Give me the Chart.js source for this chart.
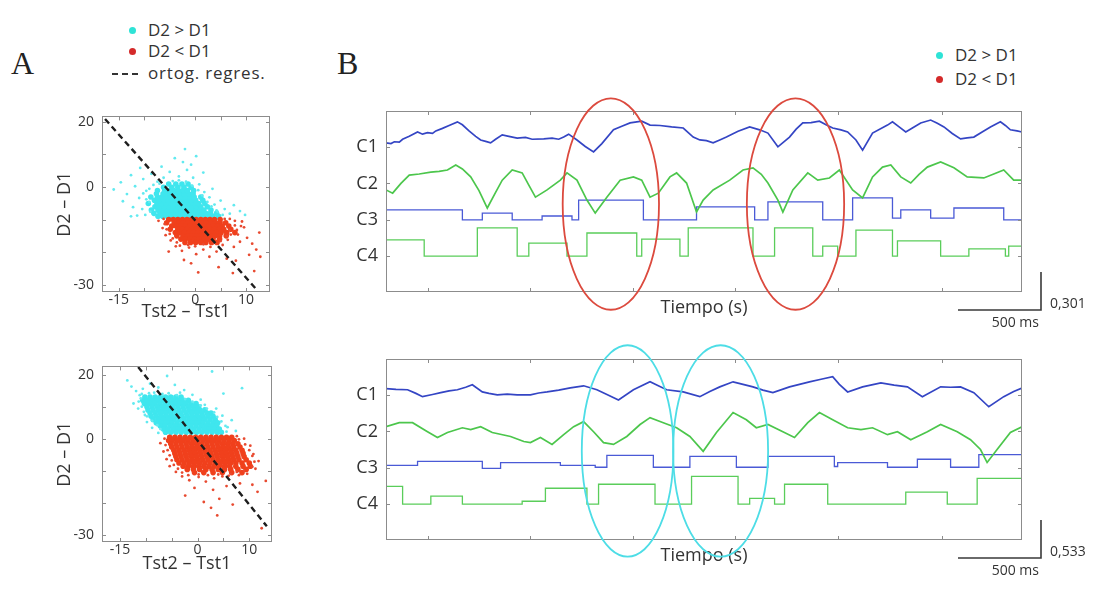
<!DOCTYPE html>
<html>
<head>
<meta charset="utf-8">
<script src="https://cdn.jsdelivr.net/npm/chart.js@4.4.1/dist/chart.umd.min.js"></script>
<style>
  body { margin: 0; width: 1093px; height: 591px; position: relative; overflow: hidden; background: #fff;
         font-family: 'Open Sans', sans-serif; color: #333; }
  canvas { position: absolute; }
  .panel { position: absolute; font-family: 'Liberation Serif', serif; font-size: 32px; line-height: 32px; color: #222; }
  .leg { position: absolute; font-size: 17px; line-height: 20px; white-space: nowrap; }
  .dot { display: inline-block; width: 7px; height: 7px; border-radius: 50%; margin-right: 12px; vertical-align: middle; position: relative; top: -1px; }
  .dash { display: inline-block; width: 26px; border-top: 2px dashed #333; margin-right: 10px; vertical-align: middle; }
</style>
</head>
<body>
<div class="panel" style="left:11px;top:47px">A</div>
<div class="panel" style="left:337px;top:47px">B</div>

<div class="leg" style="left:129px;top:20px"><span class="dot" style="background:#2ee3d6"></span>D2 &gt; D1</div>
<div class="leg" style="left:129px;top:41px"><span class="dot" style="background:#d42a2a"></span>D2 &lt; D1</div>
<div class="leg" style="left:112px;top:63px;letter-spacing:0.8px"><span class="dash"></span>ortog. regres.</div>

<div class="leg" style="left:936px;top:45px"><span class="dot" style="background:#2ee3d6"></span>D2 &gt; D1</div>
<div class="leg" style="left:936px;top:69px"><span class="dot" style="background:#d42a2a"></span>D2 &lt; D1</div>

<canvas id="sc1" width="240" height="230" style="left:40px;top:100px"></canvas>
<canvas id="sc2" width="240" height="230" style="left:40px;top:350px"></canvas>
<canvas id="ts1" width="763" height="250" style="left:330px;top:88px"></canvas>
<canvas id="ts2" width="763" height="250" style="left:330px;top:336px"></canvas>

<script>
// ---- Panel A: D2-D1 vs Tst2-Tst1 scatter clouds -------------------------
// dense cores as rows [y, [x...]], scattered points as [x, y] pairs

const p1CyanRows = [
  [-9.0, [-7.3,-6.4,-5.5,-4.6,-3.7,-2.8,-1.9,-1.0,-0.1,0.8,1.7,2.6,3.5,4.6]],
  [-8.1, [-8.1,-6.9,-6.0,-5.1,-4.2,-3.3,-2.4,-1.5,-0.6,0.3,1.2,2.1,3.0,4.2]],
  [-7.1, [-8.6,-7.3,-6.4,-5.5,-4.6,-3.7,-2.8,-1.9,-1.0,-0.1,0.8,1.7,3.1]],
  [-6.1, [-7.9,-7.0,-6.1,-5.2,-4.3,-3.4,-2.5,-1.6,-0.7,0.2,1.1,2.4]],
  [-5.1, [-9.2,-7.5,-6.6,-5.7,-4.8,-3.9,-3.0,-2.1,-1.2,-0.3,0.7,1.9]],
  [-4.1, [-8.0,-7.1,-6.2,-5.3,-4.4,-3.5,-2.6,-1.7,-0.8,0.1,1.5]],
  [-3.1, [-8.7,-7.4,-6.5,-5.6,-4.7,-3.8,-2.9,-2.0,-1.1,-0.2,1.1]],
  [-2.1, [-7.6,-6.3,-5.8,-4.9,-4.0,-3.1,-2.2,-1.3,-0.4]],
  [-1.1, [-7.4,-6.0,-5.1,-4.2,-3.3,-2.4,-1.5,-0.3]],
  [-0.1, [-6.2,-4.6,-3.4,-2.2,-0.8]],
  [0.9,  [-5.2,-3.8,-2.6,-1.4]]
];
const p1CyanSparse = [
  [-16.0,-0.8],[-14.6,1.4],[-13.4,-2.2],[-12.6,3.6],[-11.8,0.2],[-11.0,-3.4],[-10.2,2.4],[-9.6,-1.2],
  [-9.0,-4.6],[-10.8,5.8],[-8.6,4.0],[-7.4,1.6],[-6.2,2.8],[-5.0,4.6],[-4.0,8.8],[-3.2,3.2],
  [-2.4,7.6],[-1.6,5.2],[-0.8,6.8],[-0.4,2.8],[0.8,0.8],[1.8,-1.6],[2.8,-3.2],[3.8,-5.4],
  [5.0,-4.2],[5.8,-6.8],[6.8,-8.2],[7.6,-5.6],[8.8,-7.4],[9.8,-8.6],[4.4,-7.6],[-6.6,6.2],
  [-2.0,11.6],[1.6,4.4],[-12.2,-6.2],[-14.2,-4.4],[0.2,9.4],[3.4,-0.6],
  [-9.8,-8.6],[-10.4,-6.8],[-9.6,-3.8],[-10.2,-2.0],[-9.0,-0.6],[-8.2,0.6],[-7.0,1.0],[-4.4,1.8],
  [-3.2,2.0],[-1.8,1.6],[-0.6,0.4],[0.6,-1.0],[1.4,-2.6],[2.4,-4.6],[3.2,-6.0],[4.2,-7.2],
  [5.4,-8.6],[-8.8,-7.6],[-11.4,-8.8],[-12.6,-9.0]
];
const p1RedRows = [
  [-10.0, [-5.2,-4.3,-3.4,-2.5,-1.6,-0.7,0.2,1.1,2.0,2.9,3.8,4.9]],
  [-11.0, [-5.6,-4.1,-3.2,-2.3,-1.4,-0.5,0.4,1.3,2.2,3.1,4.0,4.9,6.0]],
  [-12.0, [-4.6,-3.7,-2.8,-1.9,-1.0,-0.1,0.8,1.7,2.6,3.5,4.4,5.3,6.6]],
  [-13.0, [-4.9,-3.4,-2.5,-1.6,-0.7,0.2,1.1,2.0,2.9,3.8,4.7,5.6,7.0]],
  [-14.0, [-3.9,-3.0,-2.1,-1.2,-0.3,0.6,1.5,2.4,3.3,4.2,5.1,6.2,7.8]],
  [-15.0, [-3.6,-2.4,-1.5,-0.6,0.3,1.2,2.1,3.0,3.9,4.8,6.1]],
  [-16.0, [-2.8,-1.9,-1.0,-0.1,0.8,1.7,2.6,3.5,4.8]],
  [-17.0, [-2.0,-0.9,0.1,1.1,2.1,3.2,4.3]]
];
const p1RedSparse = [
  [-7.2,-10.4],[-6.4,-12.6],[-5.8,-14.8],[-4.8,-16.4],[-3.8,-18.2],[-2.6,-19.6],[-1.2,-18.6],[0.2,-20.6],
  [1.6,-19.2],[2.8,-21.4],[4.2,-19.8],[5.4,-17.8],[6.4,-16.2],[7.6,-18.4],[8.4,-14.6],[8.8,-16.8],
  [9.6,-12.4],[10.2,-15.6],[11.2,-17.4],[12.0,-19.2],[12.8,-21.4],[10.6,-20.8],[8.0,-22.6],[6.2,-22.0],
  [4.6,-24.6],[0.6,-26.2],[-0.8,-23.4],[7.4,-26.4],[11.6,-25.8],[9.2,-10.6],[7.8,-11.8],[-5.2,-19.8],
  [3.6,-17.2],[6.8,-13.2],[-2.2,-22.4],[12.6,-14.0],
  [-6.2,-9.8],[-6.0,-11.4],[-5.6,-13.0],[-5.0,-14.4],[-4.4,-15.8],[-3.6,-17.0],[-3.0,-18.0],[-1.4,-17.8],
  [0.0,-18.2],[1.6,-17.6],[3.0,-18.4],[5.0,-16.6],[6.2,-15.0],[7.0,-14.6],[8.2,-13.2],[7.8,-10.4],
  [6.8,-9.8],[5.8,-9.8],[9.0,-12.0]
];
const p1Regression = [[-17.7, 20.8], [12.1, -31.5]];

const p2CyanRows = [
  [13.2, [-10.2,-9.2,-8.2,-7.2,-6.2,-5.2,-4.2,-3.2]],
  [12.2, [-10.6,-9.7,-8.7,-7.7,-6.7,-5.7,-4.7,-3.7,-2.7,-1.8]],
  [11.2, [-10.3,-9.3,-8.3,-7.3,-6.3,-5.3,-4.3,-3.3,-2.3,-1.3,-0.3]],
  [10.2, [-9.8,-8.8,-7.8,-6.8,-5.8,-4.8,-3.8,-2.8,-1.8,-0.8,0.2]],
  [9.2,  [-9.6,-8.6,-7.6,-6.6,-5.6,-4.6,-3.6,-2.6,-1.6,-0.6,0.4,1.4]],
  [8.2,  [-9.2,-8.2,-7.2,-6.2,-5.2,-4.2,-3.2,-2.2,-1.2,-0.2,0.8,1.8,2.6]],
  [7.2,  [-9.0,-8.0,-7.0,-6.0,-5.0,-4.0,-3.0,-2.0,-1.0,0.0,1.0,2.0,3.0]],
  [6.2,  [-8.6,-7.6,-6.6,-5.6,-4.6,-3.6,-2.6,-1.6,-0.6,0.4,1.4,2.4,3.4]],
  [5.2,  [-8.0,-7.0,-6.0,-5.0,-4.0,-3.0,-2.0,-1.0,0.0,1.0,2.0,3.0,3.9]],
  [4.2,  [-7.2,-6.3,-5.3,-4.3,-3.3,-2.3,-1.3,-0.3,0.7,1.7,2.7,3.7]],
  [3.2,  [-6.6,-5.7,-4.7,-3.7,-2.7,-1.7,-0.7,0.3,1.3,2.3,3.3,4.2]],
  [2.2,  [-6.2,-5.2,-4.2,-3.2,-2.2,-1.2,-0.2,0.8,1.8,2.8,3.8,4.6]]
];
const p2CyanSparse = [
  [-12.8,16.5],[-11.9,15.1],[-11.2,13.8],[-12.4,11.2],[-11.5,9.6],[-10.6,15.8],[-9.2,17.4],[-7.6,16.2],
  [-5.9,19.8],[-4.4,17.0],[-2.6,15.4],[-1.0,13.9],[0.6,12.4],[1.4,10.8],[2.8,21.2],[5.0,14.3],
  [3.6,9.6],[4.8,7.4],[6.6,6.0],[5.8,3.8],[7.4,2.6],[-10.2,7.6],[-9.8,5.4],[-8.8,3.6],
  [-7.6,2.0],[-13.6,18.4],[8.6,16.0],[-3.4,14.6],[-8.4,14.6],[-6.8,14.2],
  [-10.8,14.2],[-9.4,14.4],[-7.0,14.0],[-5.6,14.4],[-4.0,13.8],[-2.4,12.6],[-1.0,11.8],[0.6,10.6],
  [1.8,9.6],[3.2,8.4],[3.8,7.0],[4.6,5.6],[5.4,4.2],[5.6,2.4],[-7.2,3.2],[-7.8,4.4],
  [-8.8,5.8],[-9.8,7.2],[-10.4,8.6],[-10.8,10.2],[-11.4,11.8],[-11.0,12.8]
];
const p2RedRows = [
  [0.6,   [-5.4,-4.4,-3.4,-2.4,-1.4,-0.4,0.6,1.6,2.6,3.6,4.6,5.6,6.6]],
  [-0.4,  [-5.6,-4.9,-3.9,-2.9,-1.9,-0.9,0.1,1.1,2.1,3.1,4.1,5.1,6.1,7.1]],
  [-1.4,  [-5.2,-4.2,-3.2,-2.2,-1.2,-0.2,0.8,1.8,2.8,3.8,4.8,5.8,6.8,7.8]],
  [-2.4,  [-5.0,-4.0,-3.0,-2.0,-1.0,0.0,1.0,2.0,3.0,4.0,5.0,6.0,7.0,8.2]],
  [-3.4,  [-4.6,-3.6,-2.6,-1.6,-0.6,0.4,1.4,2.4,3.4,4.4,5.4,6.4,7.4,8.6]],
  [-4.4,  [-4.4,-3.4,-2.4,-1.4,-0.4,0.6,1.6,2.6,3.6,4.6,5.6,6.6,7.6,8.8]],
  [-5.4,  [-4.2,-3.2,-2.2,-1.2,-0.2,0.8,1.8,2.8,3.8,4.8,5.8,6.8,7.8,9.0]],
  [-6.4,  [-4.0,-3.0,-2.0,-1.0,0.0,1.0,2.0,3.0,4.0,5.0,6.0,7.0,8.0,9.4]],
  [-7.4,  [-3.6,-2.6,-1.6,-0.6,0.4,1.4,2.4,3.4,4.4,5.4,6.4,7.4,8.6,10.0]],
  [-8.4,  [-2.8,-1.8,-0.8,0.2,1.2,2.2,3.2,4.2,5.2,6.2,7.4,8.8,10.2]],
  [-9.4,  [-2.0,-0.8,0.4,1.6,2.8,4.0,5.2,6.4,7.8,9.4]],
  [-10.4, [-0.6,1.2,3.0,4.8,6.6,8.6]]
];
const p2RedSparse = [
  [-7.2,-1.2],[-6.6,-3.8],[-6.0,-6.2],[-5.4,-8.4],[-4.2,-10.2],[-3.0,-11.6],[-1.6,-12.8],[0.2,-11.8],
  [1.6,-13.2],[3.2,-12.2],[4.8,-11.6],[6.4,-10.8],[8.0,-11.2],[9.6,-10.8],[11.2,-9.2],[11.8,-6.8],
  [10.8,-4.6],[10.2,-2.0],[9.0,0.2],[8.2,-13.8],[10.6,-14.2],[11.6,-16.4],[3.0,-15.8],[4.2,-18.6],
  [2.6,-21.4],[3.8,-23.8],[1.2,-19.6],[12.4,-27.8],[6.8,-20.4],[-0.6,-15.2],[5.6,-14.6],[-2.4,-17.6],
  [13.2,-13.0],
  [-6.4,0.2],[-6.2,-1.8],[-5.8,-3.4],[-5.4,-5.0],[-5.0,-6.6],[-4.6,-8.0],[-3.8,-9.2],[-3.0,-10.4],
  [-1.8,-11.2],[0.2,-11.0],[2.0,-11.2],[4.0,-11.0],[6.0,-11.4],[7.6,-10.2],[9.0,-9.8],[10.6,-8.6],
  [11.0,-7.0],[10.6,-5.2],[10.0,-3.4],[9.2,-1.6],[8.0,0.0],[7.6,1.0]
];
const p2Regression = [[-11.5, 22.6], [13.4, -27.2]];

const scXTicks = [-15, -10, -5, 0, 5, 10];
const scXLabels = [-15, 0, 10];
const scYTicks = [-30, -20, -10, 0, 10, 20];
const scYLabels = [-30, 0, 20];

// ---- Panel B: channel traces C1..C4 (time in s, offset units) -----------

const p1C1 = [[0,4.12],[0.03,4.10],[0.05,4.15],[0.08,4.14],[0.10,4.22],[0.14,4.30],[0.19,4.42],[0.22,4.36],
  [0.25,4.40],[0.28,4.38],[0.30,4.45],[0.34,4.52],[0.38,4.60],[0.43,4.70],[0.46,4.62],[0.50,4.45],
  [0.54,4.30],[0.57,4.20],[0.60,4.16],[0.63,4.12],[0.66,4.22],[0.70,4.34],[0.74,4.30],[0.79,4.25],
  [0.84,4.27],[0.88,4.22],[0.95,4.23],[1.00,4.25],[1.04,4.22],[1.07,4.28],[1.10,4.36],[1.15,4.20],
  [1.20,4.02],[1.25,3.87],[1.30,4.10],[1.37,4.48],[1.42,4.58],[1.47,4.67],[1.54,4.72],[1.59,4.61],
  [1.65,4.60],[1.72,4.56],[1.79,4.53],[1.85,4.28],[1.89,4.20],[1.93,4.18],[1.97,4.12],[2.01,4.20],
  [2.05,4.28],[2.12,4.44],[2.19,4.56],[2.25,4.48],[2.30,4.39],[2.36,4.01],[2.43,4.28],[2.47,4.50],
  [2.51,4.67],[2.56,4.68],[2.61,4.72],[2.65,4.62],[2.69,4.53],[2.74,4.48],[2.78,4.42],[2.83,4.20],
  [2.87,3.92],[2.93,4.39],[3.02,4.61],[3.05,4.70],[3.09,4.56],[3.13,4.42],[3.18,4.56],[3.22,4.67],
  [3.28,4.75],[3.32,4.66],[3.36,4.56],[3.41,4.38],[3.46,4.23],[3.50,4.26],[3.54,4.28],[3.59,4.42],
  [3.64,4.56],[3.70,4.70],[3.73,4.60],[3.76,4.48],[3.80,4.45],[3.83,4.42]];
const p1C2 = [[0,2.82],[0.04,2.73],[0.09,3.00],[0.14,3.23],[0.20,3.26],[0.27,3.31],[0.32,3.33],[0.37,3.37],
  [0.42,3.51],[0.46,3.40],[0.51,3.18],[0.56,2.80],[0.61,2.32],[0.66,2.75],[0.70,3.09],[0.76,3.37],
  [0.82,3.29],[0.86,2.95],[0.90,2.62],[0.97,2.82],[1.05,3.09],[1.09,3.29],[1.15,3.09],[1.21,2.54],
  [1.26,2.18],[1.33,2.62],[1.41,3.09],[1.49,3.18],[1.54,3.09],[1.59,2.62],[1.64,2.73],[1.71,3.18],
  [1.75,3.29],[1.81,3.01],[1.87,2.21],[1.91,2.54],[1.97,2.82],[2.07,3.09],[2.15,3.37],[2.21,3.43],
  [2.26,3.25],[2.30,3.01],[2.36,2.54],[2.39,2.21],[2.45,2.82],[2.54,3.29],[2.60,3.09],[2.67,3.15],
  [2.73,3.37],[2.81,2.82],[2.87,2.60],[2.93,3.18],[2.99,3.45],[3.04,3.51],[3.10,3.18],[3.16,3.01],
  [3.21,3.25],[3.26,3.45],[3.34,3.59],[3.42,3.43],[3.50,3.18],[3.60,3.15],[3.66,3.26],[3.72,3.37],
  [3.78,3.09],[3.83,3.09]];
const p1C3 = [[0,2.27],[0.46,1.99],[0.58,2.18],[0.76,1.99],[0.94,2.10],[1.12,1.99],[1.16,2.54],[1.55,1.99],
  [1.87,2.35],[2.22,1.99],[2.30,2.49],[2.63,1.99],[2.81,2.60],[3.05,2.04],[3.10,2.27],[3.28,2.04],
  [3.42,2.32],[3.72,1.99],[3.83,1.99]];
const p1C4 = [[0,1.44],[0.23,0.99],[0.55,1.77],[0.79,0.99],[0.86,1.35],[1.09,0.99],[1.21,1.63],[1.51,0.99],
  [1.54,1.46],[1.77,0.99],[1.82,1.77],[2.21,0.99],[2.34,1.77],[2.57,0.99],[2.63,1.27],[2.72,0.99],
  [2.83,1.71],[3.05,0.99],[3.08,1.41],[3.34,0.99],[3.51,1.19],[3.73,0.99],[3.75,1.27],[3.83,1.27]];

const p2C1 = [[0,4.18],[0.06,4.16],[0.13,4.15],[0.18,4.05],[0.22,3.96],[0.28,4.02],[0.33,4.07],[0.38,4.12],
  [0.43,4.15],[0.48,4.22],[0.52,4.29],[0.58,4.09],[0.62,4.05],[0.67,4.01],[0.73,4.03],[0.79,4.01],
  [0.87,4.01],[0.92,4.06],[0.97,4.09],[1.04,4.14],[1.11,4.20],[1.19,4.26],[1.27,4.15],[1.34,4.00],
  [1.40,3.87],[1.49,4.15],[1.59,4.37],[1.64,4.26],[1.69,4.15],[1.79,4.09],[1.89,3.96],[1.95,4.10],
  [2.01,4.23],[2.09,4.37],[2.15,4.30],[2.21,4.23],[2.27,4.14],[2.33,4.07],[2.43,4.23],[2.49,4.30],
  [2.55,4.37],[2.62,4.44],[2.69,4.51],[2.73,4.30],[2.78,4.09],[2.87,4.23],[2.98,4.34],[3.06,4.28],
  [3.14,4.23],[3.23,3.96],[3.34,4.23],[3.40,4.22],[3.46,4.23],[3.54,4.07],[3.63,3.68],[3.72,3.96],
  [3.78,4.10],[3.83,4.20]];
const p2C2 = [[0,3.13],[0.08,3.24],[0.16,3.24],[0.25,2.99],[0.31,2.83],[0.37,2.97],[0.46,3.10],[0.51,3.05],
  [0.57,3.13],[0.64,2.97],[0.75,2.86],[0.83,2.72],[0.87,2.69],[0.93,2.83],[1.00,2.64],[1.07,2.91],
  [1.13,3.13],[1.19,3.27],[1.25,2.99],[1.31,2.69],[1.37,2.64],[1.45,2.86],[1.53,3.19],[1.59,3.38],
  [1.67,3.24],[1.75,3.10],[1.83,2.86],[1.91,2.45],[1.99,2.97],[2.09,3.52],[2.17,3.32],[2.23,3.10],
  [2.30,3.19],[2.39,2.99],[2.46,2.83],[2.54,3.24],[2.61,3.52],[2.69,3.32],[2.78,3.10],[2.86,3.05],
  [2.93,3.10],[3.02,2.91],[3.08,2.99],[3.16,2.77],[3.26,2.99],[3.34,3.19],[3.44,2.99],[3.52,2.77],
  [3.58,2.50],[3.62,2.14],[3.68,2.50],[3.76,2.97],[3.83,3.13]];
const p2C3 = [[0,2.06],[0.19,2.17],[0.58,1.98],[0.69,2.14],[1.05,2.06],[1.26,2.01],[1.33,2.34],[1.61,2.01],
  [1.83,2.31],[2.11,2.01],[2.30,2.31],[2.70,2.03],[2.72,2.14],[3.02,2.01],[3.20,2.23],[3.40,2.01],
  [3.57,2.36],[3.83,2.36]];
const p2C4 = [[0,1.48],[0.10,0.99],[0.27,1.21],[0.46,0.99],[0.82,1.07],[0.96,1.43],[1.21,0.99],[1.28,1.54],
  [1.62,0.99],[1.84,1.76],[2.12,0.99],[2.19,1.15],[2.34,0.99],[2.40,1.54],[2.66,0.99],[3.13,1.32],
  [3.38,0.99],[3.56,1.70],[3.83,1.70]];

const timeTicks = [0.25, 0.87, 1.49, 2.10, 2.72, 3.35];
const channelTicks = [1, 2, 3, 4];
const channelNames = ['C4', 'C3', 'C2', 'C1'];

// highlighted windows: [t centre, level centre, half width (s), half height]
const redWindows = [[1.354, 2.43, 0.29, 2.92], [2.466, 2.43, 0.293, 2.92]];
const cyanWindows = [[1.455, 2.46, 0.276, 2.92], [2.015, 2.46, 0.286, 2.92]];

const scaleBarSeconds = 0.5;
const scaleBarAmp = 1.05;
const ampLabels = ['0,301', '0,533'];

// ---- helpers / plugins ----------------------------------------------------

Chart.defaults.font.family = "'Open Sans', sans-serif";
Chart.defaults.color = '#333';

const flatRows = (rows) => rows.flatMap(([y, xs]) => xs.map((x) => [x, y]));
const setTicks = (vals) => (s) => { s.ticks = vals.map((v) => ({ value: v })); };

// boxed axes with small inward ticks on every side
const framePlugin = {
  id: 'frame',
  afterDraw(chart) {
    const { ctx, chartArea: a, scales } = chart;
    ctx.save();
    ctx.strokeStyle = '#8c8c8c';
    ctx.lineWidth = 1;
    ctx.strokeRect(Math.round(a.left) + 0.5, Math.round(a.top) + 0.5,
                   Math.round(a.right - a.left) - 1, Math.round(a.bottom - a.top) - 1);
    ctx.beginPath();
    for (const t of scales.x.ticks) {
      const px = Math.round(scales.x.getPixelForValue(t.value)) + 0.5;
      ctx.moveTo(px, a.top); ctx.lineTo(px, a.top + 4);
      ctx.moveTo(px, a.bottom); ctx.lineTo(px, a.bottom - 4);
    }
    for (const t of scales.y.ticks) {
      const py = Math.round(scales.y.getPixelForValue(t.value)) + 0.5;
      ctx.moveTo(a.left, py); ctx.lineTo(a.left + 4, py);
      ctx.moveTo(a.right, py); ctx.lineTo(a.right - 4, py);
    }
    ctx.stroke();
    ctx.restore();
  }
};

const ellipsePlugin = {
  id: 'windows',
  afterDraw(chart, args, opts) {
    const { ctx, scales: { x, y } } = chart;
    ctx.save();
    ctx.lineWidth = 1.8;
    ctx.strokeStyle = opts.color;
    for (const [t, v, dt, dv] of opts.items) {
      const cx = x.getPixelForValue(t), cy = y.getPixelForValue(v);
      const rx = x.getPixelForValue(t + dt) - cx;
      const ry = cy - y.getPixelForValue(v + dv);
      ctx.beginPath();
      ctx.ellipse(cx, cy, rx, ry, 0, 0, Math.PI * 2);
      ctx.stroke();
    }
    ctx.restore();
  }
};

const scaleBarPlugin = {
  id: 'scaleBar',
  afterDraw(chart, args, opts) {
    const { ctx, chartArea: a, scales: { x, y } } = chart;
    const right = a.right + 19, base = a.bottom + 18;
    const w = x.getPixelForValue(scaleBarSeconds) - x.getPixelForValue(0);
    const h = y.getPixelForValue(0) - y.getPixelForValue(scaleBarAmp);
    ctx.save();
    ctx.strokeStyle = '#3a3a3a';
    ctx.lineWidth = 1.6;
    ctx.beginPath();
    ctx.moveTo(right - w, base); ctx.lineTo(right, base); ctx.lineTo(right, base - h);
    ctx.stroke();
    ctx.fillStyle = '#333';
    ctx.font = "14px 'Open Sans'";
    ctx.textBaseline = 'middle';
    ctx.textAlign = 'left';
    ctx.fillText(opts.ampLabel, right + 9, base - 6);
    ctx.textAlign = 'right';
    ctx.fillText(scaleBarSeconds * 1000 + ' ms', right - 2, base + 13);
    ctx.restore();
  }
};

// ---- scatter panels -------------------------------------------------------

function scatterChart(id, cyanRows, cyanSparse, redRows, redSparse, regression, range, padRight, titlePad) {
  const cloud = (data, color, r) => ({ data, backgroundColor: color, borderWidth: 0, pointRadius: r, pointHoverRadius: r });
  return new Chart(document.getElementById(id), {
    type: 'scatter',
    data: {
      datasets: [
        { data: regression, showLine: true, borderColor: '#1e1e1e', borderWidth: 2.4,
          borderDash: [6, 4], pointRadius: 0 },
        cloud(redSparse, '#e84a30', 1.4),
        cloud(flatRows(redRows), '#f0401c', 2.8),
        cloud(cyanSparse, '#62eaf0', 1.4),
        cloud(flatRows(cyanRows), '#3fe6ee', 2.8)
      ]
    },
    options: {
      responsive: false,
      animation: false,
      layout: { padding: { top: 12, right: padRight, left: 0, bottom: 0 } },
      plugins: { legend: { display: false }, tooltip: { enabled: false } },
      scales: {
        x: {
          type: 'linear', min: range[0], max: range[1],
          grid: { display: false, drawTicks: false }, border: { display: false },
          afterBuildTicks: setTicks(scXTicks),
          afterFit: (s) => { s.height = 38; },
          ticks: { padding: 0, autoSkip: false, maxRotation: 0, font: { size: 14 },
                   callback: (v) => (scXLabels.includes(v) ? String(v) : '') },
          title: { display: true, text: 'Tst2 – Tst1', font: { size: 18 }, padding: { top: 0, bottom: titlePad } }
        },
        y: {
          type: 'linear', min: range[2], max: range[3],
          grid: { display: false, drawTicks: false }, border: { display: false },
          afterBuildTicks: setTicks(scYTicks),
          afterFit: (s) => { s.width = 62; },
          ticks: { padding: 8, autoSkip: false, font: { size: 14 },
                   callback: (v) => (scYLabels.includes(v) ? String(v) : '') },
          title: { display: true, text: 'D2 – D1', font: { size: 18 }, padding: { top: 14, bottom: 0 } }
        }
      }
    },
    plugins: [framePlugin]
  });
}

scatterChart('sc1', p1CyanRows, p1CyanSparse, p1RedRows, p1RedSparse, p1Regression, [-18.3, 14.7, -32.2, 21.6], 10, 7);
scatterChart('sc2', p2CyanRows, p2CyanSparse, p2RedRows, p2RedSparse, p2Regression, [-18.5, 14.4, -32.1, 22.8], 8, 5);

// ---- trace panels ---------------------------------------------------------

function traceChart(id, c1, c2, c3, c4, windowColor, windows, ampLabel) {
  // step channels hold each level until the next change point
  const trace = (data, color, width, stepped) => ({ data, borderColor: color, borderWidth: width,
    pointRadius: 0, tension: 0, stepped: stepped || false });
  return new Chart(document.getElementById(id), {
    type: 'line',
    data: {
      datasets: [
        trace(c1, '#3445c4', 1.7),
        trace(c2, '#4cc64c', 1.7),
        trace(c3, '#4a5ad6', 1.3, 'before'),
        trace(c4, '#5acd5a', 1.3, 'before')
      ]
    },
    options: {
      responsive: false,
      animation: false,
      layout: { padding: { top: 23, right: 71, left: 0, bottom: 0 } },
      plugins: {
        legend: { display: false }, tooltip: { enabled: false },
        windows: { color: windowColor, items: windows },
        scaleBar: { ampLabel }
      },
      scales: {
        x: {
          type: 'linear', min: 0, max: 3.83,
          grid: { display: false, drawTicks: false }, border: { display: false },
          afterBuildTicks: setTicks(timeTicks),
          afterFit: (s) => { s.height = 46; },
          ticks: { display: false },
          title: { display: true, text: 'Tiempo (s)', font: { size: 18 }, padding: { top: 0, bottom: 19 } }
        },
        y: {
          min: 0, max: 5,
          grid: { display: false, drawTicks: false }, border: { display: false },
          afterBuildTicks: setTicks(channelTicks),
          afterFit: (s) => { s.width = 56; },
          ticks: { padding: 8, font: { size: 18 }, autoSkip: false,
                   callback: (v) => channelNames[channelTicks.indexOf(v)] }
        }
      }
    },
    plugins: [framePlugin, ellipsePlugin, scaleBarPlugin]
  });
}

traceChart('ts1', p1C1, p1C2, p1C3, p1C4, '#dc4a3e', redWindows, ampLabels[0]);
traceChart('ts2', p2C1, p2C2, p2C3, p2C4, '#4ddde6', cyanWindows, ampLabels[1]);
</script>
</body>
</html>
